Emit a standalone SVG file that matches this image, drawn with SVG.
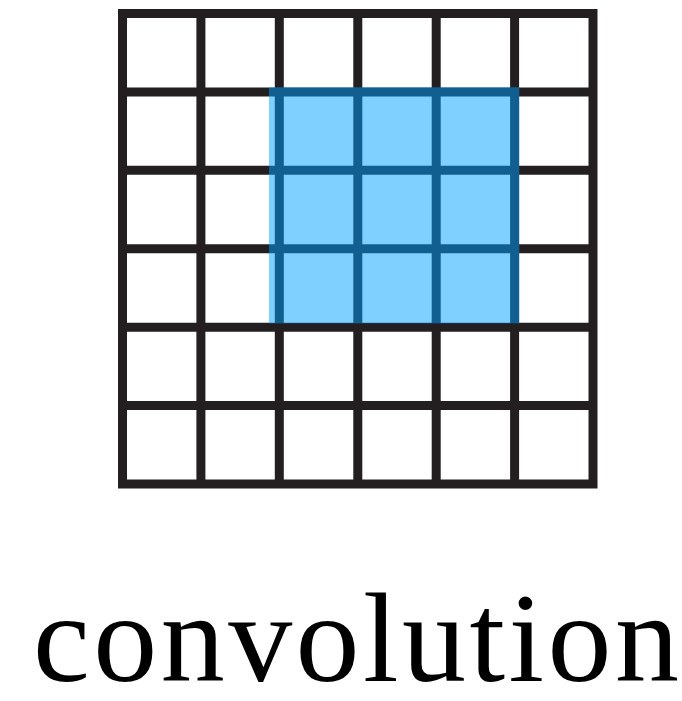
<svg xmlns="http://www.w3.org/2000/svg" width="682" height="701" viewBox="0 0 682 701">
  <style>
    .grid { stroke: #231F20; stroke-width: 9; fill: none; }
    .overlay { fill: #009FFF; fill-opacity: 0.5; }
    .label { font-family: "Liberation Serif", "Times New Roman", serif; font-size: 128px; fill: #000000; }
  </style>
  <rect width="682" height="701" fill="#ffffff"/>
  <g id="grid">
    <rect class="grid" x="122.5" y="13.5" width="470.5" height="470.5"/>
    <path class="grid" d="M200.9 13.5V484M279.3 13.5V484M357.8 13.5V484M436.2 13.5V484M514.6 13.5V484M122.5 91.9H593M122.5 170.3H593M122.5 248.8H593M122.5 327.2H593M122.5 405.6H593"/>
  </g>
  <g id="kernel">
    <rect class="overlay" x="269" y="87.3" width="250.3" height="236"/>
  </g>
  <g id="caption">
    <text class="label" x="33" y="681" textLength="646" lengthAdjust="spacing">convolution</text>
  </g>
</svg>
